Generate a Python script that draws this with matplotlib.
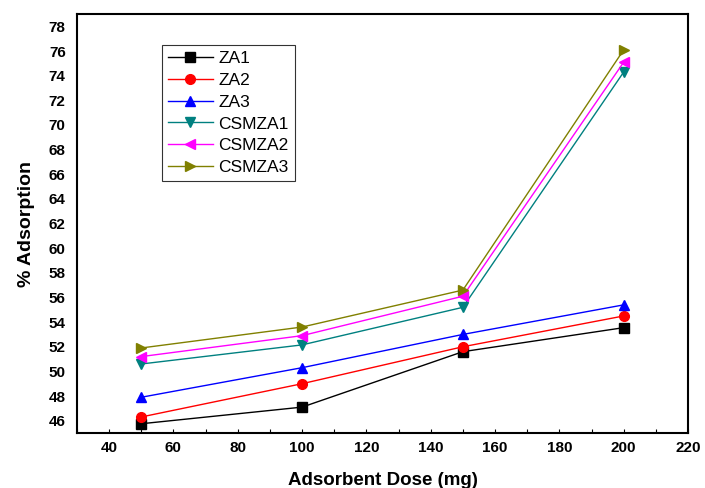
import matplotlib
matplotlib.use("Agg")
import matplotlib.pyplot as plt
from matplotlib.ticker import MultipleLocator

plt.rcParams['font.family'] = ['Liberation Sans', 'DejaVu Sans']

# Data
dose = [50, 100, 150, 200]
za1 = [45.75, 47.1, 51.6, 53.55]
za2 = [46.3, 49.0, 52.0, 54.5]
za3 = [47.9, 50.3, 53.0, 55.4]
csmza1 = [50.6, 52.15, 55.2, 74.3]
csmza2 = [51.2, 52.9, 56.1, 75.1]
csmza3 = [51.9, 53.6, 56.6, 76.1]

labels = ["ZA1", "ZA2", "ZA3", "CSMZA1", "CSMZA2", "CSMZA3"]
series = [za1, za2, za3, csmza1, csmza2, csmza3]
colors = ["black", "red", "blue", "#008080", "#FF00FF", "#808000"]
markers = ["s", "o", "^", "v", "<", ">"]

fig = plt.figure(figsize=(7.05, 4.88), dpi=100)
ax = fig.add_axes([0.109, 0.1127, 0.867, 0.8585])

for y, lab, c, m in zip(series, labels, colors, markers):
    ax.plot(dose, y, color=c, marker=m, markersize=7, linewidth=1.0, label=lab)

ax.set_xlim(30, 220)
ax.set_ylim(45, 79)
ax.xaxis.set_minor_locator(MultipleLocator(10))
ax.yaxis.set_major_locator(MultipleLocator(2))
ax.set_xticks(range(40, 221, 20))
ax.tick_params(axis='x', which='both', direction='in', length=3, width=0.8, pad=6)
ax.tick_params(axis='y', which='both', length=0, pad=8)
for lab in ax.get_xticklabels() + ax.get_yticklabels():
    lab.set_fontweight('bold')
    lab.set_fontsize(11)

for s in ax.spines.values():
    s.set_linewidth(1.5)

ax.set_xlabel("Adsorbent Dose (mg)", fontsize=13.5, fontweight='bold', labelpad=12)
ax.set_ylabel("% Adsorption", fontsize=14, fontweight='bold', labelpad=10)

leg = ax.legend(loc='upper left', bbox_to_anchor=(0.139, 0.926), borderaxespad=0,
                fontsize=12.5, frameon=True, fancybox=False, edgecolor='black',
                handlelength=2.6, handletextpad=0.3, borderpad=0.35, labelspacing=0.38)
leg.get_frame().set_linewidth(0.8)

fig.savefig("out.png", dpi=100)
